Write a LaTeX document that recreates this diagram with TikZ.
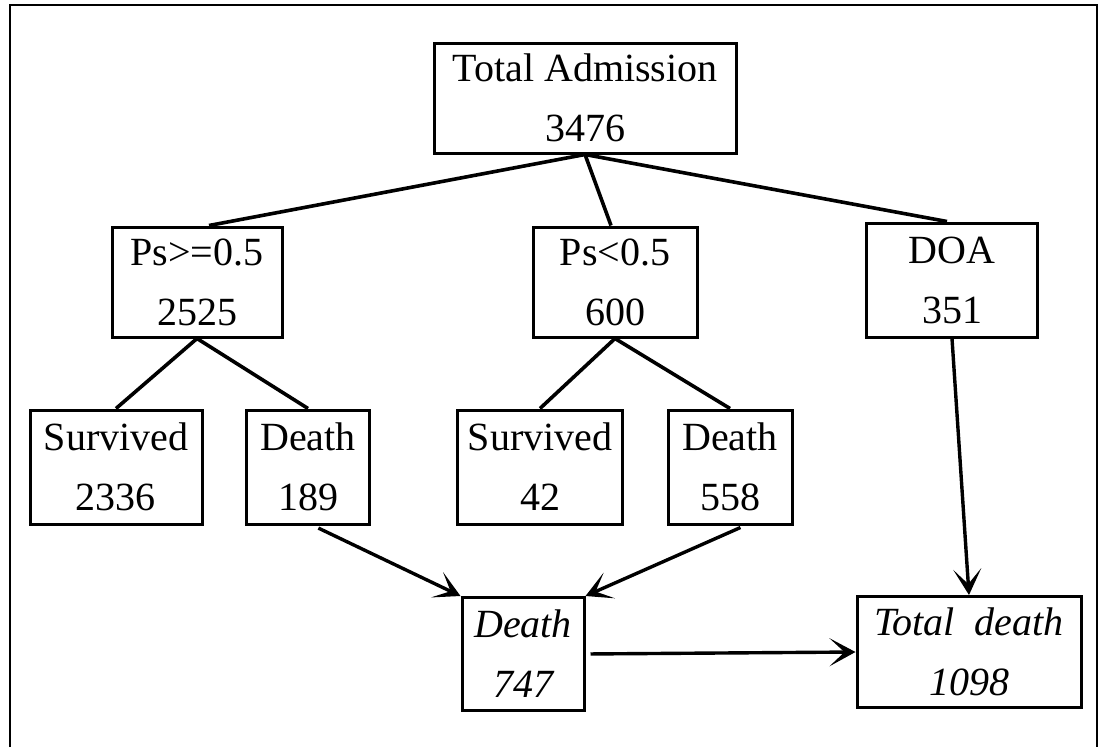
\documentclass[tikz,border=0pt]{standalone}
\usepackage{fontspec}
\setmainfont{Liberation Serif}
\usetikzlibrary{arrows.meta}

\begin{document}
\begin{tikzpicture}[x=1pt, y=-1pt,
  box/.style={rectangle,draw,line width=3pt,align=center,inner sep=0pt,minimum height=110pt,font=\fontsize{40}{60}\selectfont},
  itbox/.style={box,font=\fontsize{40}{60}\selectfont\itshape},
  link/.style={line width=3.6pt},
  flow/.style={line width=3.4pt,-{Stealth[length=26pt,width=28pt,inset=15pt]}}]
  \useasboundingbox (0,0) rectangle (1103,747);
  \draw[line width=2.4pt] (10,747) -- (10,5) -- (1097,5) -- (1097,747);

  \node[box,minimum width=302pt] (ta) at (585,98) {Total Admission\\3476};
  \node[box,minimum width=170pt] (ps1) at (197,282) {Ps>=0.5\\2525};
  \node[box,minimum width=164pt] (ps2) at (615,282) {Ps<0.5\\600};
  \node[box,minimum width=171pt,minimum height=114pt] (doa) at (952,280) {DOA\\351};

  \node[box,minimum width=172pt,minimum height=114pt] (sv1) at (116,467) {Survived\\2336};
  \node[box,minimum width=123pt,minimum height=114pt] (d1) at (308,467) {Death\\189};
  \node[box,minimum width=165pt,minimum height=114pt] (sv2) at (540,467) {Survived\\42};
  \node[box,minimum width=124pt,minimum height=114pt] (d2) at (730,467) {Death\\558};

  \node[itbox,minimum width=122pt,minimum height=113pt] (dd) at (523,654) {Death\\747};
  \node[itbox,minimum width=224pt,minimum height=111pt] (td) at (969,652) {Total~ death\\1098};

  \draw[link] (ta.south) -- ([xshift=12pt]ps1.north);
  \draw[link] (ta.south) -- ([xshift=-4pt]ps2.north);
  \draw[link] (ta.south) -- ([xshift=-5pt]doa.north);
  \draw[link] (ps1.south) -- (sv1.north);
  \draw[link] (ps1.south) -- (d1.north);
  \draw[link] (ps2.south) -- (sv2.north);
  \draw[link] (ps2.south) -- (d2.north);

  \draw[flow,shorten <=6pt] ([xshift=5pt]d1.south) -- (dd.north west);
  \draw[flow,shorten <=5pt] ([xshift=15pt]d2.south) -- (dd.north east);
  \draw[flow,shorten <=5pt] (dd.east) -- (td.west);
  \draw[flow] (doa.south) -- (td.north);
\end{tikzpicture}
\end{document}
